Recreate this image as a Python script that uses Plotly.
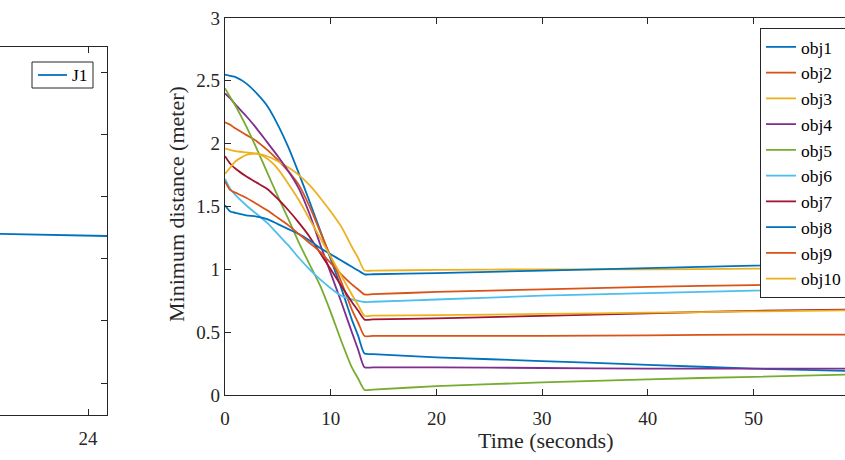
import plotly.graph_objects as go

# ---------------- data ----------------
time_s = [0, 0.5, 1, 2, 3, 4, 5, 6, 7, 8, 9, 10, 11, 12, 12.6, 13.2, 14, 20, 30, 40, 50, 60]

obj1 = [2.55, 2.54, 2.53, 2.48, 2.40, 2.30, 2.15, 1.97, 1.76, 1.54, 1.31, 1.08, 0.85, 0.60, 0.47, 0.33, 0.325, 0.30, 0.27, 0.24, 0.21, 0.19]
obj2 = [2.17, 2.15, 2.12, 2.07, 2.02, 1.95, 1.87, 1.78, 1.67, 1.50, 1.30, 1.10, 0.90, 0.68, 0.575, 0.47, 0.47, 0.47, 0.47, 0.475, 0.48, 0.48]
obj3 = [1.96, 1.95, 1.94, 1.93, 1.92, 1.90, 1.86, 1.81, 1.75, 1.67, 1.57, 1.46, 1.34, 1.18, 1.09, 0.99, 0.99, 0.995, 1.00, 1.00, 1.005, 1.01]
obj4 = [2.40, 2.36, 2.31, 2.22, 2.12, 2.01, 1.90, 1.78, 1.64, 1.44, 1.20, 0.97, 0.74, 0.50, 0.36, 0.22, 0.22, 0.22, 0.215, 0.21, 0.21, 0.21]
obj5 = [2.44, 2.37, 2.30, 2.14, 1.96, 1.77, 1.58, 1.40, 1.21, 1.04, 0.87, 0.66, 0.43, 0.22, 0.13, 0.04, 0.043, 0.07, 0.10, 0.125, 0.145, 0.165]
obj6 = [1.72, 1.64, 1.59, 1.51, 1.44, 1.37, 1.28, 1.19, 1.09, 1.00, 0.92, 0.85, 0.79, 0.76, 0.75, 0.74, 0.742, 0.76, 0.79, 0.81, 0.83, 0.85]
obj7 = [1.90, 1.84, 1.80, 1.74, 1.69, 1.64, 1.56, 1.47, 1.37, 1.26, 1.13, 1.00, 0.87, 0.74, 0.67, 0.60, 0.601, 0.61, 0.63, 0.65, 0.67, 0.68]
obj8 = [1.51, 1.46, 1.45, 1.43, 1.42, 1.40, 1.36, 1.32, 1.28, 1.23, 1.17, 1.12, 1.07, 1.02, 0.99, 0.96, 0.961, 0.97, 0.99, 1.01, 1.03, 1.05]
obj9 = [1.70, 1.63, 1.61, 1.57, 1.52, 1.47, 1.41, 1.35, 1.28, 1.21, 1.14, 1.05, 0.96, 0.88, 0.84, 0.80, 0.802, 0.82, 0.84, 0.86, 0.875, 0.89]
obj10 = [1.76, 1.81, 1.86, 1.91, 1.92, 1.88, 1.80, 1.68, 1.55, 1.40, 1.25, 1.10, 0.95, 0.80, 0.715, 0.63, 0.631, 0.635, 0.645, 0.655, 0.665, 0.675]

series_names = ["obj1", "obj2", "obj3", "obj4", "obj5", "obj6", "obj7", "obj8", "obj9", "obj10"]
series_values = [obj1, obj2, obj3, obj4, obj5, obj6, obj7, obj8, obj9, obj10]
series_colors = ["#0072BD", "#D95319", "#EDB120", "#7E2F8E", "#77AC30",
                 "#4DBEEE", "#A2142F", "#0072BD", "#D95319", "#EDB120"]

j1_time = [20, 21, 22, 23, 24, 25]
j1_values = [3.40, 3.393, 3.386, 3.378, 3.370, 3.362]

x_ticks_right = [0, 10, 20, 30, 40, 50]
y_ticks_right = [0, 0.5, 1, 1.5, 2, 2.5, 3]
y_tick_labels_right = ["0", "0.5", "1", "1.5", "2", "2.5", "3"]

# ---------------- figure ----------------
W, H = 845, 460
FONT = "Liberation Serif"
AX = "#262626"

fig = go.Figure()

fig.add_trace(go.Scatter(x=j1_time, y=j1_values, mode="lines", name="J1",
                         line=dict(color="#0072BD", width=1.8),
                         xaxis="x", yaxis="y", showlegend=False))

for name, vals, col in zip(series_names, series_values, series_colors):
    fig.add_trace(go.Scatter(x=time_s, y=vals, mode="lines", name=name,
                             line=dict(color=col, width=1.8, shape="spline", smoothing=0.6),
                             xaxis="x2", yaxis="y2"))

def px_x(p):
    return p / W

def px_y(p):
    return 1 - p / H

tickfont = dict(family=FONT, size=19, color=AX)

# manual legend for the cropped left panel (J1)
shapes = [
    dict(type="rect", xref="paper", yref="paper",
         x0=px_x(32), x1=px_x(93), y0=px_y(88), y1=px_y(62),
         line=dict(color=AX, width=1), fillcolor="white", layer="above"),
    dict(type="line", xref="paper", yref="paper",
         x0=px_x(38), x1=px_x(67), y0=px_y(75), y1=px_y(75),
         line=dict(color="#0072BD", width=1.8), layer="above"),
]

fig.update_layout(
    width=W, height=H,
    margin=dict(l=0, r=0, t=0, b=0, autoexpand=False),
    paper_bgcolor="white", plot_bgcolor="white",
    font=dict(family=FONT, color=AX),
    showlegend=True,
    # left (cropped) subplot
    xaxis=dict(domain=[0, px_x(107)], range=[20.48, 24.76], tickmode="array",
               tickvals=[20, 24], ticktext=["20", "24"],
               ticks="inside", ticklen=6, tickcolor=AX, tickwidth=1,
               showline=True, linecolor=AX, linewidth=1.3, mirror="ticks",
               showgrid=False, zeroline=False, tickfont=tickfont,
               ticklabelstandoff=6, anchor="y"),
    yaxis=dict(domain=[px_y(415), px_y(46.7)], range=[0.4855, 6.407],
               tickmode="array", tickvals=[1, 2, 3, 4, 5, 6],
               side="right", showticklabels=False,
               ticks="inside", ticklen=6, tickcolor=AX, tickwidth=1,
               showline=True, linecolor=AX, linewidth=1.3,
               showgrid=False, zeroline=False, anchor="x"),
    # right subplot
    xaxis2=dict(domain=[px_x(225), 1.0], range=[0, (845 - 225) / 10.57],
                tickmode="array", tickvals=x_ticks_right,
                ticks="inside", ticklen=6, tickcolor=AX, tickwidth=1,
                showline=True, linecolor=AX, linewidth=1.3, mirror="ticks",
                showgrid=False, zeroline=False, tickfont=tickfont,
                ticklabelstandoff=6, anchor="y2"),
    yaxis2=dict(domain=[px_y(395), px_y(18)], range=[0, 3],
                tickmode="array", tickvals=y_ticks_right, ticktext=y_tick_labels_right,
                ticks="inside", ticklen=6, tickcolor=AX, tickwidth=1,
                showline=True, linecolor=AX, linewidth=1.3,
                showgrid=False, zeroline=False, tickfont=tickfont,
                anchor="x2"),
    legend=dict(x=px_x(760), y=px_y(28), xanchor="left", yanchor="top",
                bgcolor="white", bordercolor=AX, borderwidth=1,
                font=dict(family=FONT, size=17.5, color="#000000"),
                tracegroupgap=0),
    shapes=shapes,
    annotations=[
        dict(text="J1", x=px_x(70), y=px_y(75), xref="paper", yref="paper",
             showarrow=False, xanchor="left", yanchor="middle",
             font=dict(family=FONT, size=17.5, color="#000000")),
        dict(text="Time (seconds)", x=px_x(545), y=px_y(440), xref="paper", yref="paper",
             showarrow=False, xanchor="center", yanchor="middle",
             font=dict(family=FONT, size=22, color=AX)),
        dict(text="Minimum distance (meter)", x=px_x(176), y=px_y(204), xref="paper", yref="paper",
             showarrow=False, xanchor="center", yanchor="middle", textangle=-90,
             font=dict(family=FONT, size=22, color=AX)),
    ],
)

fig.write_html("out.html", config={"displayModeBar": False})
